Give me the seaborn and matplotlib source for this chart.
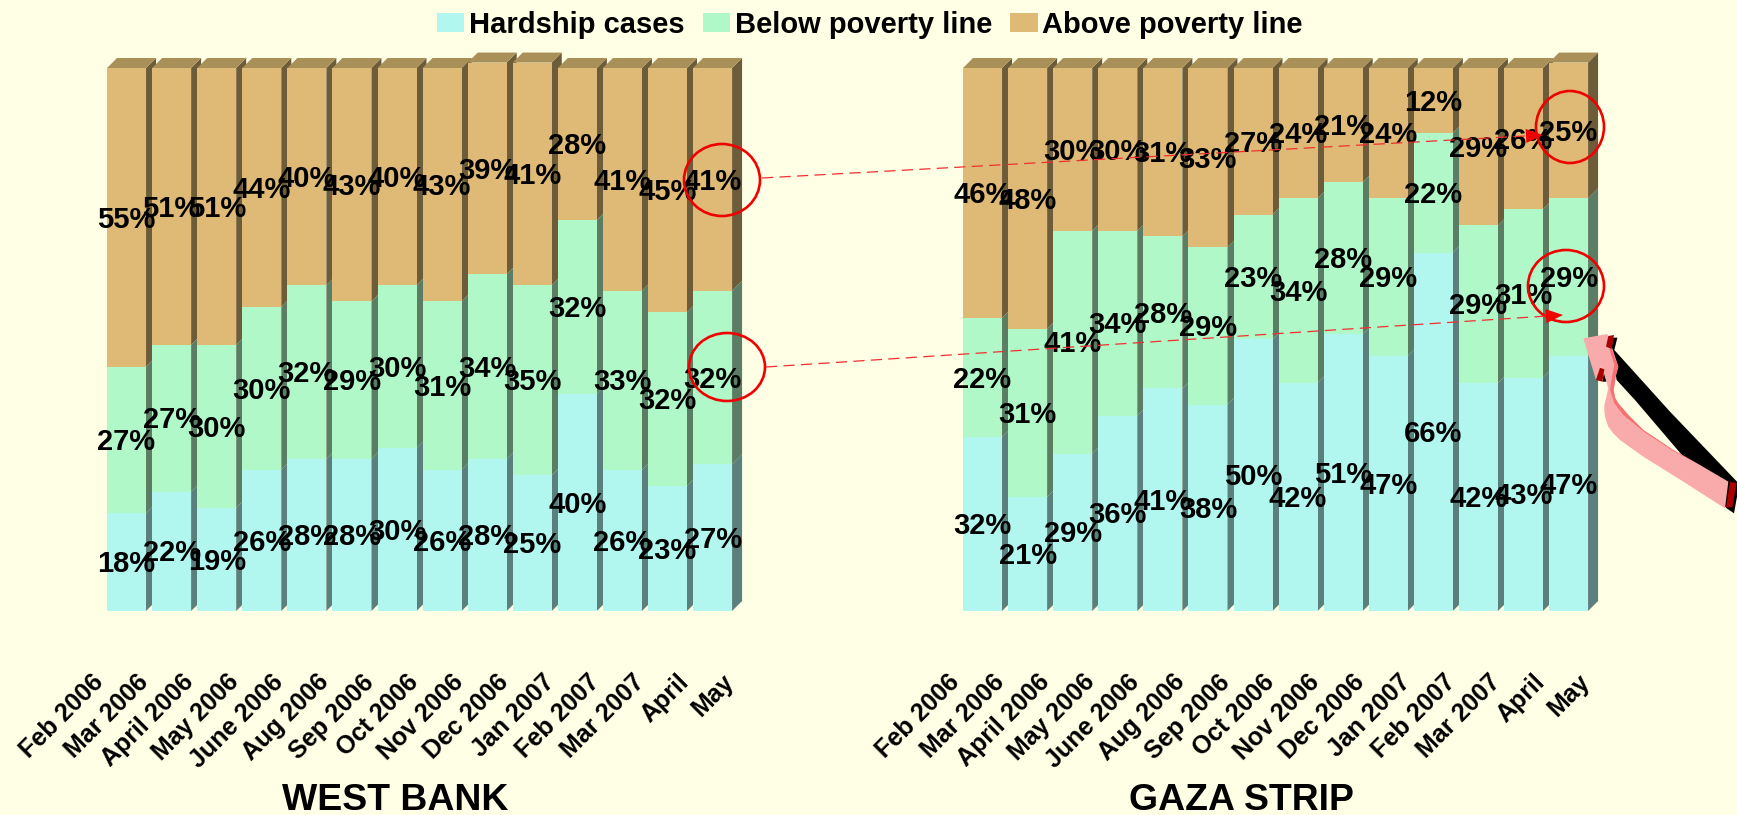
import numpy as np
import pandas as pd
import matplotlib
matplotlib.use("Agg")
import matplotlib.pyplot as plt
import seaborn as sns
from matplotlib.patches import Polygon, Ellipse, Patch
from matplotlib.transforms import ScaledTranslation

# 15 labels on the axis but 14 bars, same as the original chart
meses = ["Feb 2006", "Mar 2006", "April 2006", "May 2006", "June 2006", "Aug 2006",
         "Sep 2006", "Oct 2006", "Nov 2006", "Dec 2006", "Jan 2007", "Feb 2007",
         "Mar 2007", "April", "May"]

wb_hardship = [18, 22, 19, 26, 28, 28, 30, 26, 28, 25, 40, 26, 23, 27]
wb_below = [27, 27, 30, 30, 32, 29, 30, 31, 34, 35, 32, 33, 32, 32]
wb_above = [55, 51, 51, 44, 40, 43, 40, 43, 39, 41, 28, 41, 45, 41]

gz_hardship = [32, 21, 29, 36, 41, 38, 50, 42, 51, 47, 66, 42, 43, 47]
gz_below = [22, 31, 41, 34, 28, 29, 23, 34, 28, 29, 22, 29, 31, 29]
gz_above = [46, 48, 30, 30, 31, 33, 27, 24, 21, 24, 12, 29, 26, 25]

series = ["Hardship cases", "Below poverty line", "Above poverty line"]
colores = ["#B2F6F0", "#B0F8C8", "#DEBA76"]
laterales = ["#5B7F7C", "#5A7D64", "#6D5C39"]
techo = "#A98F58"
fondo = "#FFFFE5"

W, H = 1737, 815
PITCH = 45.08
PX_POR_PCT = 5.43
PROF = 10  # profundidad del falso 3D, en pixeles
YMAX = 105

sns.set_theme(style="white", rc={"figure.facecolor": fondo, "savefig.facecolor": fondo,
                                 "text.color": "black", "xtick.color": "black"})
plt.rcParams["font.family"] = ["Liberation Sans", "DejaVu Sans"]
plt.rcParams["font.weight"] = "bold"

fig = plt.figure(figsize=(W / 100, H / 100), dpi=100)


def panel(x_izq, valores, titulo, x_titulo):
    ax = fig.add_axes([x_izq / W, (H - 611) / H, 15 * PITCH / W, YMAX * PX_POR_PCT / H])
    ax.patch.set_alpha(0)
    dx = PROF / PITCH
    dy = PROF / PX_POR_PCT
    base = np.zeros(len(valores[0]))
    for vals, color, lado in zip(valores, colores, laterales):
        df = pd.DataFrame({"mes": meses[:len(vals)], "pct": vals})
        n_antes = len(ax.containers)
        sns.barplot(data=df, x="mes", y="pct", order=meses, color=color, saturation=1,
                    width=0.865, errorbar=None, bottom=base, linewidth=0, ax=ax)
        cont = ax.containers[n_antes]
        ax.bar_label(cont, labels=[f"{v}%" for v in vals], label_type="center", padding=-1.6,
                     fontsize=21, fontweight="bold", color="black", zorder=5)
        for r in cont:
            x1 = r.get_x() + r.get_width()
            y0, y1 = r.get_y(), r.get_y() + r.get_height()
            ax.add_patch(Polygon([(x1, y0), (x1 + dx, y0 + dy), (x1 + dx, y1 + dy), (x1, y1)],
                                 fc=lado, ec="none", zorder=0.5, clip_on=False))
        base = base + np.array(vals)
    # tapa superior
    for r in ax.containers[-1]:
        x0, x1 = r.get_x(), r.get_x() + r.get_width()
        y1 = r.get_y() + r.get_height()
        ax.add_patch(Polygon([(x0, y1), (x0 + dx, y1 + dy), (x1 + dx, y1 + dy), (x1, y1)],
                             fc=techo, ec="none", zorder=0.6, clip_on=False))
    ax.set_xlim(-0.5, 14.5)
    ax.set_ylim(0, YMAX)
    ax.set_xlabel("")
    ax.set_ylabel("")
    ax.set_yticks([])
    ax.set_xticks(range(len(meses)))
    ax.set_xticklabels(meses, rotation=45, ha="right", va="top", fontsize=18, fontweight="bold",
                       color="black")
    ax.tick_params(axis="x", length=0, pad=42.5)
    desplaza = ScaledTranslation(-18.6 / 100, 0, fig.dpi_scale_trans)
    for t in ax.get_xticklabels():
        t.set_transform(t.get_transform() + desplaza)
    sns.despine(ax=ax, left=True, bottom=True)
    fig.text(x_titulo / W, 1 - 800 / H, titulo, ha="center", va="center",
             fontsize=26.9, fontweight="bold", color="black")
    return ax


panel(104, [wb_hardship, wb_below, wb_above], "WEST BANK", 395)
panel(960, [gz_hardship, gz_below, gz_above], "GAZA STRIP", 1241)

handles = [Patch(fc=c, ec="none", label=s) for c, s in zip(colores, series)]
fig.legend(handles=handles, loc="center", bbox_to_anchor=(870 / W, 1 - 25 / H), ncols=3,
           frameon=False, prop={"size": 21, "weight": "bold"}, labelcolor="black",
           handlelength=0.93, handleheight=0.62, handletextpad=0.17, columnspacing=0.62,
           borderpad=0, borderaxespad=0)

# capa de anotaciones en pixeles de la imagen
ov = fig.add_axes([0, 0, 1, 1], zorder=10)
ov.set_xlim(0, W)
ov.set_ylim(H, 0)
ov.axis("off")
ov.patch.set_alpha(0)

for cx, cy, rx, ry in [(722, 180, 38, 36), (727, 367, 38, 34),
                       (1570, 127, 34, 36), (1566, 286, 38, 36)]:
    ov.add_patch(Ellipse((cx, cy), 2 * rx, 2 * ry, fc="none", ec="#F00000", lw=1.9))

for (x0, y0), (x1, y1) in [((762, 178), (1543, 135)), ((766, 367), (1563, 315))]:
    ang = np.arctan2(y1 - y0, x1 - x0)
    u = np.array([np.cos(ang), np.sin(ang)])
    n = np.array([-u[1], u[0]])
    punta = np.array([x1, y1])
    ov.plot([x0, x1 - 15 * u[0]], [y0, y1 - 15 * u[1]], color="#F03030", lw=0.9,
            dashes=(9, 5))
    ov.add_patch(Polygon([punta, punta - 17 * u + 7 * n, punta - 17 * u - 7 * n],
                         fc="#F00000", ec="none"))


def c1(puntos):
    return [(1570 + a / 3, 325 + b / 3) for a, b in puntos]


def c2(puntos):
    return [(1600 + a / 3, 400 + b / 3) for a, b in puntos]


# sombra negra
sombra = (c1([(128, 38), (142, 38), (133, 75), (300, 260)])
          + c2([(411, 245), (411, 290), (402, 340), (380, 325), (250, 170), (105, 0)])
          + c1([(140, 165), (125, 80)]))
ov.add_patch(Polygon(sombra, fc="black", ec="none"))
ov.add_patch(Polygon(c1([(103, 135), (110, 170), (97, 170)]), fc="black", ec="none"))

# cinta rosa
cinta = (c1([(40, 40), (112, 27), (130, 80), (145, 125), (138, 150), (131, 195), (135, 218),
             (145, 235), (175, 270)])
         + c2([(130, 90), (220, 150), (300, 195), (385, 245), (375, 325), (250, 245), (130, 170),
               (60, 120), (38, 98), (25, 80), (16, 55), (13, 35), (13, 15)])
         + c1([(108, 220), (115, 190), (100, 140), (92, 125), (78, 165)]))
ov.add_patch(Polygon(cinta, fc="#F9ABAB", ec="none"))

borde = (c1([(125, 70), (145, 125), (138, 150), (131, 195), (135, 218), (145, 235), (175, 270)])
         + c2([(130, 90), (220, 150), (300, 195), (220, 153), (130, 94)])
         + c1([(160, 270), (133, 235), (120, 195), (127, 150), (133, 120), (118, 72)]))
ov.add_patch(Polygon(borde, fc="#F87070", ec="none"))

for q in (c1([(108, 65), (115, 33), (132, 30), (125, 72)]),
          c1([(90, 128), (103, 133), (97, 170), (78, 165)]),
          c2([(390, 245), (410, 250), (397, 322), (378, 322)])):
    ov.add_patch(Polygon(q, fc="#AA0000", ec="none"))

fig.savefig("out.png", dpi=100)
